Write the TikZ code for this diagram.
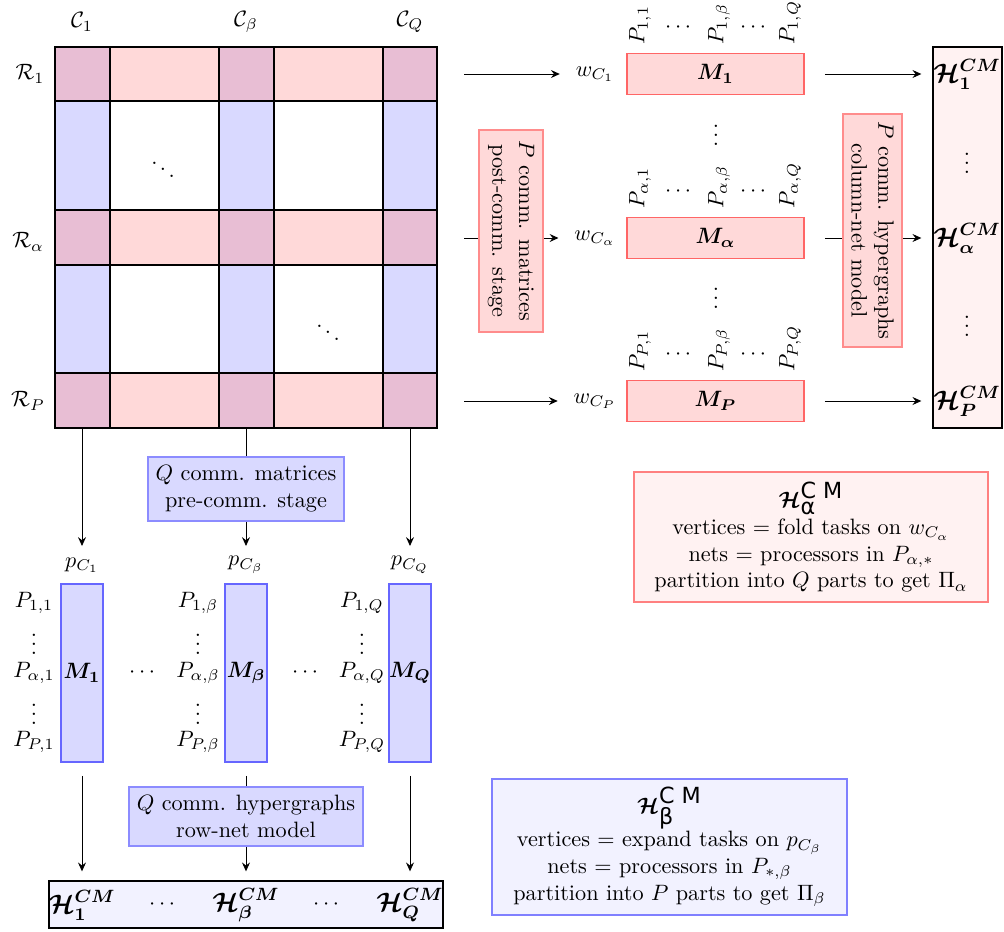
\documentclass[tikz,border=0pt]{standalone}
\usepackage{amsmath,amssymb,bm}
\usepackage{fontspec}
\newfontfamily\dejavu{DejaVu Sans}
\usetikzlibrary{arrows.meta}
\definecolor{mixcol}{RGB}{232,190,212}
\def\u{0.45pt}
\tikzset{
  redbox/.style={draw=red!60, fill=red!15, line width=0.8pt},
  bluebox/.style={draw=blue!60, fill=blue!15, line width=0.8pt},
  rednote/.style={draw=red!45, fill=red!15, line width=0.5pt, align=center, inner sep=1pt},
  bluenote/.style={draw=blue!45, fill=blue!15, line width=0.5pt, align=center, inner sep=1pt},
  redlegend/.style={draw=red!50, fill=red!5, line width=0.5pt, align=center},
  bluelegend/.style={draw=blue!50, fill=blue!5, line width=0.5pt, align=center},
  arr/.style={-{Stealth[length=4pt,width=3.6pt,inset=1.4pt]}, line width=0.4pt},
  grid/.style={line width=0.9pt},
  rlab/.style={rotate=90, anchor=west, inner sep=1pt},
  lab/.style={inner sep=0.5pt},
}
\begin{document}
\begin{tikzpicture}[x=0.45pt,y=-0.45pt]
\useasboundingbox (0,0) rectangle (1004,932);
% ---------- matrix ----------
\foreach \ya/\yb in {47/101,210/265,373/428}
  \fill[red!15] (55,\ya) rectangle (437,\yb);
\foreach \xa/\xb in {55/110,219/274,383/437}{
  \fill[blue!15] (\xa,101) rectangle (\xb,210);
  \fill[blue!15] (\xa,265) rectangle (\xb,373);
  \foreach \ya/\yb in {47/101,210/265,373/428}
    \fill[mixcol] (\xa,\ya) rectangle (\xb,\yb);
}
\foreach \x in {110,219,274,383} \draw[grid] (\x,47) -- (\x,428);
\foreach \y in {101,210,265,373} \draw[grid] (55,\y) -- (437,\y);
\node[draw, grid, minimum width=382*\u, minimum height=381*\u, inner sep=0pt] (mat) at (246,237.5) {};
\node[lab] (dd1) at (163,163) {$\ddots$};
\node[lab] (dd2) at (328,326) {$\ddots$};
\node (c1) at (82,22) {$\mathcal{C}_1$};
\node (cb) at (246,22) {$\mathcal{C}_\beta$};
\node (cq) at (410,22) {$\mathcal{C}_Q$};
\node (r1) at (30,74) {$\mathcal{R}_1$};
\node (ra) at (28,242) {$\mathcal{R}_\alpha$};
\node (rp) at (28,401) {$\mathcal{R}_P$};
% ---------- right part ----------
\node[draw=black, fill=red!5, line width=0.6pt, minimum width=69*\u, minimum height=381*\u, inner sep=0pt] (hR) at (967.5,237.5) {};
\foreach \r/\y/\s in {1/74/1, a/238/\alpha, p/401/P}{
  \node[redbox, minimum width=177*\u, minimum height=41*\u, inner sep=0pt] (m\r) at (715.5,\y) {$\boldsymbol{M_{\s}}$};
  \node[inner xsep=7pt] (w\r) at (595,\y) {$w_{C_{\s}}$};
  \draw[arr, shorten <=26*\u] (mat.east |- m\r) -- (w\r);
  \draw[arr, shorten <=20*\u, shorten >=11*\u] (m\r.east) -- (m\r.east -| hR.west);
  \node[rlab] (pa\r) at (640,{\y-27}) {$P_{\s,1}$};
  \node[rlab] (pb\r) at (719,{\y-27}) {$P_{\s,\beta}$};
  \node[rlab] (pc\r) at (790,{\y-27}) {$P_{\s,Q}$};
  \node[lab] (da\r) at (680,{\y-46}) {$\cdots$};
  \node[lab] (db\r) at (755,{\y-46}) {$\cdots$};
  \node[lab] (h\r) at (967,\y) {\large$\boldsymbol{\mathcal{H}^{CM}_{\s}}$};
}
\node[lab] (vd1) at (716,129) {$\vdots$};
\node[lab] (vd2) at (716,292) {$\vdots$};
\node[lab] (hv1) at (967,157) {$\vdots$};
\node[lab] (hv2) at (967,320) {$\vdots$};
\node[rednote, rotate=-90, minimum width=202*\u, minimum height=64*\u] (post) at (511,231)
  {$P$ comm. matrices\\post-comm. stage};
\node[rednote, rotate=-90, minimum width=233*\u, minimum height=59*\u] (colnet) at (872.5,230.5)
  {$P$ comm. hypergraphs\\column-net model};
% ---------- legends ----------
\node[redlegend, minimum width=354*\u, minimum height=130*\u] (lega) at (811,537)
  {$\boldsymbol{\mathcal{H}}^{\mbox{\dejavu C M}}_{\mbox{\dejavu α}}$\\
   vertices $=$ fold tasks on $w_{C_\alpha}$\\
   nets $=$ processors in $P_{\alpha,*}$\\
   partition into $Q$ parts to get $\Pi_\alpha$};
\node[bluelegend, minimum width=355*\u, minimum height=136*\u] (legb) at (669.5,847)
  {$\boldsymbol{\mathcal{H}}^{\mbox{\dejavu C M}}_{\mbox{\dejavu β}}$\\
   vertices $=$ expand tasks on $p_{C_\beta}$\\
   nets $=$ processors in $P_{*,\beta}$\\
   partition into $P$ parts to get $\Pi_\beta$};
% ---------- bottom-left part ----------
\node[draw=black, fill=blue!5, line width=0.6pt, minimum width=394*\u, minimum height=47*\u, inner sep=0pt] (hB) at (246,904.5) {};
\foreach \c/\x/\s in {1/82/1, b/246/\beta, q/410/Q}{
  \coordinate (d\c) at (\x,546);
  \draw[arr] (mat.south -| d\c) -- (d\c);
  \node[lab] (pcol\c) at (\x,565) {$p_{C_{\s}}$};
  \node[bluebox, minimum width=42*\u, minimum height=178*\u, inner sep=0pt] (bm\c) at (\x,673) {$\boldsymbol{M_{\s}}$};
  \draw[arr, shorten <=13*\u, shorten >=9*\u] (bm\c.south) -- (bm\c.south |- hB.north);
  \node[lab] (s1\c) at ({\x-48},603) {$P_{1,\s}$};
  \node[inner sep=0pt] (s2\c) at ({\x-48},638) {$\vdots$};
  \node[lab] (s3\c) at ({\x-48},673) {$P_{\alpha,\s}$};
  \node[inner sep=0pt] (s4\c) at ({\x-48},708) {$\vdots$};
  \node[lab] (s5\c) at ({\x-48},742) {$P_{P,\s}$};
  \node[lab] (hb\c) at (\x,905) {\large$\boldsymbol{\mathcal{H}^{CM}_{\s}}$};
}
\node[lab] (hd1) at (164,905) {$\cdots$};
\node[lab] (hd2) at (328,905) {$\cdots$};
\node[lab] (md1) at (144,673) {$\cdots$};
\node[lab] (md2) at (307,673) {$\cdots$};
\node[bluenote, minimum width=196*\u, minimum height=64*\u] (pre) at (246,489)
  {$Q$ comm. matrices\\pre-comm. stage};
\node[bluenote, minimum width=234*\u, minimum height=59*\u] (rownet) at (246,816.5)
  {$Q$ comm. hypergraphs\\row-net model};
\end{tikzpicture}
\end{document}
